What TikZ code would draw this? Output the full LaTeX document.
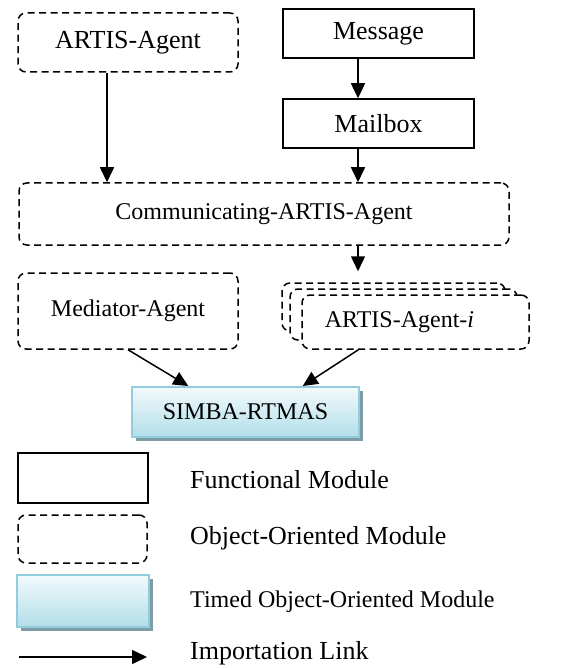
\documentclass[tikz,border=0pt]{standalone}
\usepackage{fontspec}
\setmainfont{Liberation Serif}
\usetikzlibrary{arrows.meta,calc,shadows}
\definecolor{aqualine}{HTML}{93CDDD}
\definecolor{aquatop}{HTML}{F2FAFC}
\definecolor{aquabot}{HTML}{B2DEE9}
\definecolor{aquashadow}{HTML}{7F9CA6}
\tikzset{
  txt/.style={font=\fontsize{26}{30}\selectfont},
  smalltxt/.style={font=\fontsize{24}{28}\selectfont},
  funcbox/.style={draw, line width=1.5pt, inner sep=0pt, txt},
  oobox/.style={draw, line width=1.5pt, dash pattern=on 7pt off 4.5pt,
    rounded corners=8pt, fill=white, inner sep=0pt, txt},
  timedbox/.style={draw=aqualine, line width=2pt, top color=aquatop,
    bottom color=aquabot, inner sep=0pt, txt,
    drop shadow={shadow xshift=4pt, shadow yshift=-4pt, fill=aquashadow, opacity=1}},
  imp/.style={line width=1.5pt, -{Triangle[length=15pt,width=14pt]}},
  legtxt/.style={anchor=west, inner sep=0pt, txt},
}
\begin{document}
\begin{tikzpicture}[x=1pt,y=-1pt]
\useasboundingbox (0,0) rectangle (566,668);

% top row
\node[oobox, minimum width=220pt, minimum height=59pt] (agent) at (128,42.5) {ARTIS-Agent};
\node[funcbox, minimum width=191pt, minimum height=49pt] (msg) at (378.5,33.5) {Message};
\node[funcbox, minimum width=191pt, minimum height=49pt] (mbox) at (378.5,123.5) {Mailbox};

% communicating agent
\node[oobox, smalltxt, minimum width=490pt, minimum height=62pt] (comm) at (264,214) {Communicating-ARTIS-Agent};

% mediator and the stack of ARTIS agents
\node[oobox, smalltxt, minimum width=220pt, minimum height=76pt] (med) at (128,311) {Mediator-Agent};
\node[oobox, minimum width=223pt, minimum height=48pt] (back) at (393.5,307) {};
\node[oobox, minimum width=227pt, minimum height=51pt] (mid) at (403.5,314.5) {};
\node[oobox, smalltxt, minimum width=227pt, minimum height=54pt] (front) at (415.5,322) {ARTIS-Agent-\textit{i}\hspace*{32pt}};

% timed module
\node[timedbox, smalltxt, minimum width=227pt, minimum height=50pt] (simba) at (245.5,412) {SIMBA-RTMAS};

% connectors
\coordinate (colL) at (107,0);
\coordinate (colR) at (358,0);
\draw[imp] (msg.south -| colR) -- (mbox.north -| colR);
\draw[imp] (agent.south -| colL) -- (comm.north -| colL);
\draw[imp] (mbox.south -| colR) -- (comm.north -| colR);
\coordinate (stacktop) at ($(back.north -| colR)+(0,-11)$);
\draw[imp] (comm.south -| colR) -- (stacktop);
\draw[imp] (med.south) -- ($(simba.north west)!0.25!(simba.north east)$);
\draw[imp] ($(front.south west)!0.25!(front.south east)$) -- ($(simba.north west)!0.75!(simba.north east)$);

% legend
\node[funcbox, minimum width=130pt, minimum height=50pt] (lfunc) at (83,478) {};
\node[legtxt] (tfunc) at (190,480) {Functional Module};
\node[oobox, minimum width=129pt, minimum height=48pt] (loo) at (82.5,539) {};
\node[legtxt] (too) at (190,538) {Object-Oriented Module};
\node[timedbox, minimum width=132pt, minimum height=52pt] (ltimed) at (83,601) {};
\node[legtxt, font=\fontsize{24}{28}\selectfont] (ttimed) at (190,602) {Timed Object-Oriented Module};
\coordinate (la) at (19,657);
\coordinate (lb) at (147,657);
\draw[imp] (la) -- (lb);
\node[legtxt] (timp) at (190,653) {Importation Link};
\end{tikzpicture}
\end{document}
